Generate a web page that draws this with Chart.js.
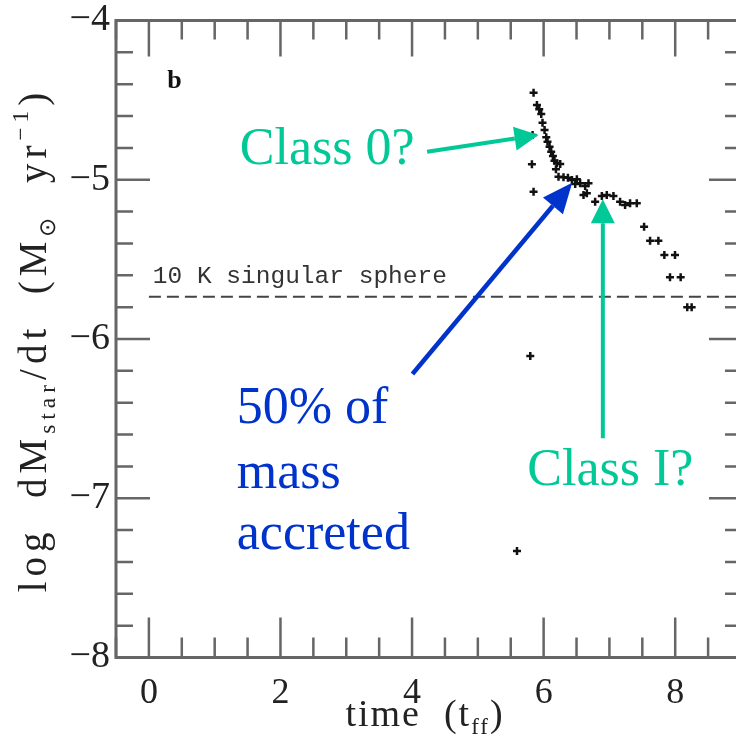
<!DOCTYPE html>
<html>
<head>
<meta charset="utf-8">
<script src="https://cdn.jsdelivr.net/npm/chart.js@4.4.1/dist/chart.umd.min.js"></script>
<style>
html, body { margin: 0; padding: 0; background: #fff; overflow: hidden; }
canvas { display: block; }
</style>
</head>
<body>
<canvas id="chart" width="750" height="742"></canvas>
<script>
// accretion rate vs time
const timeVals = [5.595, 5.797, 5.822, 5.832, 5.847, 5.847, 5.898, 5.933, 5.964, 5.983,
    6.014, 6.040, 6.059, 6.090, 6.115, 6.141, 6.165, 6.187, 6.202, 6.226,
    6.252, 6.302, 6.369, 6.430, 6.480, 6.505, 6.555, 6.606, 6.631, 6.657,
    6.682, 6.783, 6.885, 6.960, 7.061, 7.162, 7.238, 7.314, 7.416, 7.527,
    7.618, 7.744, 7.835, 7.997, 7.921, 8.083, 8.183, 8.250];
const rateVals = [-7.331, -6.107, -4.903, -4.719, -5.075, -4.453, -4.531, -4.558, -4.587, -4.642,
    -4.688, -4.733, -4.761, -4.792, -4.824, -4.851, -4.880, -4.934, -4.897, -4.981,
    -4.901, -4.985, -4.987, -5.002, -5.027, -4.997, -5.022, -5.096, -5.039, -5.085,
    -5.022, -5.138, -5.102, -5.096, -5.102, -5.138, -5.159, -5.148, -5.148, -5.295,
    -5.383, -5.383, -5.473, -5.473, -5.613, -5.613, -5.801, -5.801];

// singular isothermal sphere rate (10 K)
const sisTime = [0, 9];
const sisRate = [-5.734, -5.734];

const xTickLabels = [0, 2, 4, 6, 8];
const yTickLabels = [-8, -7, -6, -5, -4];

const serif = '"Liberation Serif", "Times New Roman", serif';
const green = '#00c896';
const blue = '#0033cc';

const points = timeVals.map((t, i) => ({ x: t, y: rateVals[i] }));
const sisLine = sisTime.map((t, i) => ({ x: t, y: sisRate[i] }));

function isInt(v) { return Math.abs(v - Math.round(v)) < 1e-6; }

function arrow(ctx, x1, y1, x2, y2, color, lw, headLen, headHalf) {
    const a = Math.atan2(y2 - y1, x2 - x1);
    const bx = x2 - Math.cos(a) * headLen;
    const by = y2 - Math.sin(a) * headLen;
    ctx.save();
    ctx.strokeStyle = color;
    ctx.fillStyle = color;
    ctx.lineWidth = lw;
    ctx.beginPath();
    ctx.moveTo(x1, y1);
    ctx.lineTo(bx, by);
    ctx.stroke();
    ctx.beginPath();
    ctx.moveTo(x2, y2);
    ctx.lineTo(bx + Math.sin(a) * headHalf, by - Math.cos(a) * headHalf);
    ctx.lineTo(bx - Math.sin(a) * headHalf, by + Math.cos(a) * headHalf);
    ctx.closePath();
    ctx.fill();
    ctx.restore();
}

// run of text pieces with sub/superscripts
function richText(ctx, pieces, size, spacing) {
    let w = 0;
    ctx.letterSpacing = spacing + 'px';
    pieces.forEach(p => {
        ctx.font = (p.s * size) + 'px ' + serif;
        p.w = ctx.measureText(p.t).width;
        w += p.w;
    });
    return {
        width: w,
        draw(x, y) {
            let cx = x;
            ctx.letterSpacing = spacing + 'px';
            pieces.forEach(p => {
                ctx.font = (p.s * size) + 'px ' + serif;
                ctx.fillText(p.t, cx, y + p.dy * size);
                cx += p.w;
            });
            ctx.letterSpacing = '0px';
        }
    };
}

function noPad(scale) {
    scale.paddingTop = 0;
    scale.paddingBottom = 0;
    scale.paddingLeft = 0;
    scale.paddingRight = 0;
}

// inward ticks on all four sides + frame, then the labels and arrows
const framePlugin = {
    id: 'framePlugin',
    afterDatasetsDraw(chart) {
        const ctx = chart.ctx;
        const a = chart.chartArea;
        const xs = chart.scales.x, ys = chart.scales.y;
        ctx.save();
        ctx.strokeStyle = '#666';
        ctx.lineWidth = 2.5;
        ctx.beginPath();
        xs.ticks.forEach(t => {
            const px = xs.getPixelForValue(t.value);
            const major = isInt(t.value) && Math.round(t.value) % 2 === 0;
            ctx.moveTo(px, a.bottom);
            ctx.lineTo(px, a.bottom - (major ? 40 : 20));
            ctx.moveTo(px, a.top);
            ctx.lineTo(px, a.top + (major ? 36 : 19));
        });
        ys.ticks.forEach(t => {
            const py = ys.getPixelForValue(t.value);
            const major = isInt(t.value);
            ctx.moveTo(a.left, py);
            ctx.lineTo(a.left + (major ? 34 : 17), py);
            ctx.moveTo(a.right, py);
            ctx.lineTo(a.right - (major ? 32 : 16), py);
        });
        ctx.stroke();
        ctx.lineWidth = 3;
        ctx.strokeRect(a.left, a.top, a.right - a.left, a.bottom - a.top);
        ctx.restore();
    },
    afterDraw(chart) {
        const ctx = chart.ctx;
        const xs = chart.scales.x, ys = chart.scales.y;
        const X = v => xs.getPixelForValue(v);
        const Y = v => ys.getPixelForValue(v);
        ctx.save();
        ctx.textBaseline = 'alphabetic';
        ctx.textAlign = 'left';

        // panel letter
        ctx.fillStyle = '#111';
        ctx.font = 'bold 26px ' + serif;
        ctx.fillText('b', X(0.28), Y(-4.426));

        // SIS label
        ctx.fillStyle = '#333';
        ctx.font = '24.5px "Liberation Mono", monospace';
        ctx.fillText('10 K singular sphere', X(0.06), Y(-5.646));

        // axis titles
        ctx.fillStyle = '#222';
        const xt = richText(ctx, [
            { t: 'time  (t', s: 1, dy: 0 },
            { t: 'ff', s: 0.6, dy: 0.2 },
            { t: ')', s: 1, dy: 0 }
        ], 38, 2);
        xt.draw(425 - xt.width / 2, 726);

        const yt = richText(ctx, [
            { t: 'log  dM', s: 1, dy: 0 },
            { t: 'star', s: 0.6, dy: 0.22 },
            { t: '/dt  (M', s: 1, dy: 0 },
            { t: '\u2299', s: 0.6, dy: 0.22 },
            { t: '  yr', s: 1, dy: 0 },
            { t: '\u22121', s: 0.6, dy: -0.45 },
            { t: ')', s: 1, dy: 0 }
        ], 39, 5);
        ctx.translate(46, 340);
        ctx.rotate(-Math.PI / 2);
        yt.draw(-yt.width / 2, 0);
        ctx.setTransform(1, 0, 0, 1, 0, 0);

        // annotations
        ctx.font = '52px ' + serif;
        ctx.fillStyle = green;
        ctx.fillText('Class 0?', X(1.381), Y(-4.901));
        ctx.fillText('Class I?', X(5.751), Y(-6.917));
        ctx.fillStyle = blue;
        ctx.fillText('50% of', X(1.335), Y(-6.529));
        ctx.fillText('mass', X(1.335), Y(-6.934));
        ctx.fillText('accreted', X(1.335), Y(-7.319));

        arrow(ctx, X(4.229), Y(-4.824), X(5.923), Y(-4.719), green, 4, 24, 12);
        arrow(ctx, X(6.900), Y(-6.624), X(6.900), Y(-5.123), green, 4, 24, 12);
        arrow(ctx, X(4.006), Y(-6.220), X(6.434), Y(-5.019), blue, 4.5, 30, 13);
        ctx.restore();
    }
};

new Chart(document.getElementById('chart'), {
    type: 'scatter',
    data: {
        datasets: [{
            data: points,
            pointStyle: 'cross',
            pointRadius: 4,
            pointBorderWidth: 2.5,
            borderColor: '#111',
            backgroundColor: '#111'
        }, {
            type: 'line',
            data: sisLine,
            borderColor: '#444',
            borderWidth: 2,
            borderDash: [12, 6],
            pointRadius: 0,
            fill: false
        }]
    },
    options: {
        responsive: false,
        animation: false,
        layout: { padding: { top: 20.5, right: 9, left: 0, bottom: 0 } },
        plugins: { legend: { display: false }, tooltip: { enabled: false } },
        scales: {
            x: {
                type: 'linear',
                min: -0.5,
                max: 9,
                grid: { display: false, drawTicks: false },
                border: { display: false },
                afterFit(scale) { scale.height = 84.5; noPad(scale); },
                ticks: {
                    stepSize: 0.5,
                    autoSkip: false,
                    maxRotation: 0,
                    padding: 14,
                    color: '#222',
                    font: { family: serif, size: 36 },
                    callback: v => (isInt(v) && xTickLabels.includes(Math.round(v))) ? String(Math.round(v)) : ''
                }
            },
            y: {
                type: 'linear',
                min: -8,
                max: -4,
                grid: { display: false, drawTicks: false },
                border: { display: false },
                afterFit(scale) { scale.width = 116; noPad(scale); },
                ticks: {
                    stepSize: 0.2,
                    autoSkip: false,
                    padding: 6,
                    color: '#222',
                    font: { family: serif, size: 38 },
                    callback: v => (isInt(v) && yTickLabels.includes(Math.round(v))) ? '\u2212' + Math.abs(Math.round(v)) : ''
                }
            }
        }
    },
    plugins: [framePlugin]
});
</script>
</body>
</html>
